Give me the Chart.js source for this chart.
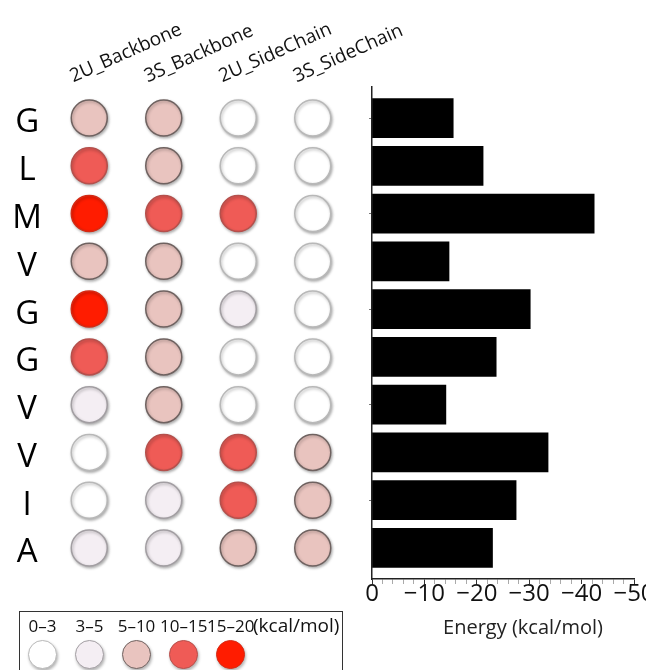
<!DOCTYPE html>
<html>
<head>
<meta charset="utf-8">
<script src="https://cdn.jsdelivr.net/npm/chart.js@4"></script>
<style>
    body { margin: 0; background: #fff; font-family: "Open Sans", sans-serif; }
    #wrap { position: relative; width: 646px; height: 670px; overflow: hidden; }
    #dots { position: absolute; left: 0; top: 0; }
    #bars { position: absolute; left: 360px; top: 0; }
    #energyTitle { position: absolute; left: 423px; top: 614px; width: 200px; text-align: center; font-size: 20px; line-height: 26px; color: #222; }
    #legend { position: absolute; left: 19px; top: 611px; width: 324px; height: 72px; border: 1.5px solid #333; box-sizing: border-box; }
    .item { position: absolute; top: 3px; width: 47px; text-align: center; font-size: 17px; line-height: 22px; color: #111; white-space: nowrap; }
    .unit { position: absolute; top: 2px; left: 233px; font-size: 19px; line-height: 22px; color: #111; white-space: nowrap; }
    .dot { width: 29px; height: 29px; border-radius: 50%; margin: 3px auto 0; box-sizing: border-box; border: 1.5px solid; box-shadow: 1px 2px 3px rgba(0, 0, 0, .3); }
</style>
</head>
<body>
<div id="wrap">
    <canvas id="dots" width="430" height="670"></canvas>
    <canvas id="bars" width="286" height="670"></canvas>
    <div id="energyTitle">Energy (kcal/mol)</div>
    <div id="legend"></div>
</div>
<script>
const rowLabels = ["G", "L", "M", "V", "G", "G", "V", "V", "I", "A"];
const columnLabels = ["2U_Backbone", "3S_Backbone", "2U_SideChain", "3S_SideChain"];

// energy class of every residue, index into levelLabels
const backbone2U = [2, 3, 4, 2, 4, 3, 1, 0, 0, 1];
const backbone3S = [2, 2, 3, 2, 2, 2, 2, 3, 1, 1];
const sideChain2U = [0, 0, 3, 0, 1, 0, 0, 3, 3, 2];
const sideChain3S = [0, 0, 0, 0, 0, 0, 0, 2, 2, 2];
const columns = [backbone2U, backbone3S, sideChain2U, sideChain3S];

const levelLabels = ["0–3", "3–5", "5–10", "10–15", "15–20"];
const levelUnit = "(kcal/mol)";
const levelColors = ["#ffffff", "#f4eef3", "#e9c4bf", "#ef5b56", "#ff1c00"];
const levelBorders = ["#b8b8b8", "#a29ea2", "#6f6260", "#b5504c", "#d42a14"];

const energy = [-15.5, -21.2, -42.4, -14.7, -30.2, -23.7, -14.1, -33.6, -27.5, -23.0];
const energyMin = -50;
const energyMax = 0;

const family = "'Open Sans', sans-serif";

const shadow = {
    id: "shadow",
    beforeDatasetsDraw(chart) {
        const ctx = chart.ctx;
        ctx.save();
        ctx.shadowColor = "rgba(0,0,0,0.3)";
        ctx.shadowBlur = 3;
        ctx.shadowOffsetX = 1;
        ctx.shadowOffsetY = 1.5;
    },
    afterDatasetsDraw(chart) {
        chart.ctx.restore();
    }
};

new Chart(document.getElementById("dots"), {
    type: "bubble",
    data: {
        datasets: columns.map((col, c) => ({
            label: columnLabels[c],
            data: rowLabels.map((_, i) => ({ x: c, y: i })),
            radius: 18,
            hoverRadius: 0,
            borderWidth: 1.5,
            backgroundColor: ctx => levelColors[col[ctx.dataIndex]],
            borderColor: ctx => levelBorders[col[ctx.dataIndex]]
        }))
    },
    options: {
        responsive: false,
        animation: false,
        layout: { padding: { left: 0, right: 80, top: 0, bottom: 91 } },
        scales: {
            x: {
                type: "linear",
                position: "top",
                min: -0.5,
                max: 3.5,
                afterBuildTicks: s => { s.ticks = columnLabels.map((_, i) => ({ value: i })); },
                afterFit: s => { s.height = 87; s.paddingLeft = 0; s.paddingRight = 0; },
                ticks: {
                    callback: v => columnLabels[v],
                    minRotation: 24,
                    maxRotation: 24,
                    labelOffset: -9,
                    padding: -1,
                    autoSkip: false,
                    color: "#111",
                    font: { family: family, size: 19 }
                },
                grid: { display: false, drawTicks: false },
                border: { display: false }
            },
            y: {
                type: "linear",
                reverse: true,
                min: -0.65,
                max: 9.65,
                afterBuildTicks: s => { s.ticks = rowLabels.map((_, i) => ({ value: i })); },
                afterFit: s => { s.width = 52; s.paddingTop = 0; s.paddingBottom = 0; },
                ticks: {
                    callback: v => rowLabels[v],
                    crossAlign: "center",
                    padding: 10,
                    labelOffset: 5,
                    autoSkip: false,
                    color: "#000",
                    font: { family: family, size: 33 }
                },
                grid: { display: false, drawTicks: false },
                border: { display: false }
            }
        },
        plugins: {
            legend: { display: false },
            tooltip: { enabled: false }
        }
    },
    plugins: [shadow]
});

new Chart(document.getElementById("bars"), {
    type: "bar",
    data: {
        datasets: [{
            data: energy.map((e, i) => ({ x: e, y: i })),
            backgroundColor: "#000",
            borderWidth: 0,
            barThickness: 39
        }]
    },
    options: {
        indexAxis: "y",
        responsive: false,
        animation: false,
        layout: { padding: { left: 0, right: 12, top: 87, bottom: 0 } },
        scales: {
            x: {
                type: "linear",
                reverse: true,
                min: energyMin,
                max: energyMax,
                afterFit: s => { s.height = 91; s.paddingLeft = 0; s.paddingRight = 0; },
                ticks: {
                    stepSize: 2,
                    autoSkip: false,
                    maxRotation: 0,
                    padding: -2,
                    callback: v => v % 10 !== 0 ? "" : (v === 0 ? "0" : "−" + Math.abs(v)),
                    color: "#111",
                    font: { family: family, size: 24, lineHeight: 1 }
                },
                grid: {
                    drawOnChartArea: false,
                    drawTicks: true,
                    tickLength: 5,
                    tickColor: ctx => ctx.tick && ctx.tick.value % 10 === 0 ? "#333" : "#aaa"
                },
                border: { color: "#222", width: 1.5 }
            },
            y: {
                type: "linear",
                reverse: true,
                offset: false,
                min: -0.65,
                max: 9.65,
                afterBuildTicks: s => { s.ticks = [0, 2, 4, 6, 8].map(v => ({ value: v })); },
                afterFit: s => { s.width = 12; s.paddingTop = 0; s.paddingBottom = 0; },
                ticks: { display: false },
                grid: {
                    offset: false,
                    drawOnChartArea: false,
                    drawTicks: true,
                    tickLength: 3,
                    tickColor: "#777"
                },
                border: { color: "#222", width: 1.5 }
            }
        },
        plugins: {
            legend: { display: false },
            tooltip: { enabled: false }
        }
    }
});

// legend box under the dots
const legend = document.getElementById("legend");
levelLabels.forEach((label, i) => {
    const item = document.createElement("div");
    item.className = "item";
    item.style.left = (-1 + i * 47) + "px";
    item.innerHTML = label + '<div class="dot"></div>';
    const dot = item.querySelector(".dot");
    dot.style.background = levelColors[i];
    dot.style.borderColor = levelBorders[i];
    legend.appendChild(item);
});
const unit = document.createElement("div");
unit.className = "unit";
unit.textContent = levelUnit;
legend.appendChild(unit);
</script>
</body>
</html>
